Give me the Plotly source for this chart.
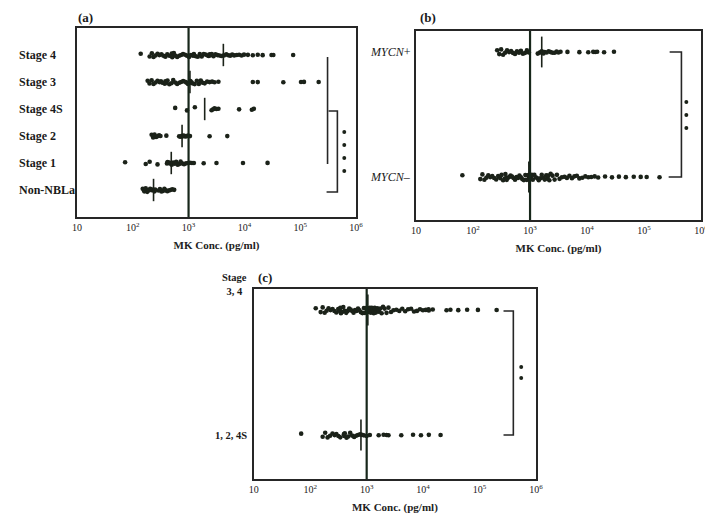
import math
import plotly.graph_objects as go

# page body has an 8px margin: size the figure so the picture fills the 713x514 window
PAGE_W, PAGE_H, BODY = 713, 514, 8
W, H = PAGE_W - BODY, PAGE_H - BODY
DOT = "#1b2219"
INK = "#262626"
SERIF = "Liberation Serif, Times New Roman, serif"

TICK_VALS = [10, 100, 1000, 10000, 100000, 1000000]
TICK_TEXT = ["10", "10<sup>2</sup>", "10<sup>3</sup>", "10<sup>4</sup>", "10<sup>5</sup>", "10<sup>6</sup>"]
CUTOFF = 1000
X_TITLE = "MK Conc. (pg/ml)"

# ---------------- panel (a) ----------------
A_CATS = ["Non-NBLa", "Stage 1", "Stage 2", "Stage 4S", "Stage 3", "Stage 4"]  # bottom -> top
a_stage4 = [139, 201, 220, 236, 256, 278, 300, 327, 355, 384, 415, 452, 500, 510, 520, 545,
            576, 625, 678, 735, 796, 865, 937, 1020, 1102, 1200, 1245, 1260, 1350, 1463,
            1590, 1721, 1870, 2023, 2200, 2300, 2382, 2450, 2600, 2800, 3030, 3295, 3580,
            3874, 4300, 4745, 5140, 5575, 6050, 6560, 7300, 8040, 8900, 9840, 11560,
            14160, 17350, 21250, 30600, 33000, 74700]
a_stage3 = [185, 200, 218, 236, 256, 278, 301, 320, 340, 375, 384, 395, 420, 452, 490, 531,
            575, 625, 680, 735, 800, 865, 920, 976, 1040, 1059, 1080, 1130, 1195, 1290,
            1406, 1530, 1652, 1680, 1800, 1944, 2150, 2382, 2640, 2917, 3428, 14160, 17350,
            49800, 103300, 116700, 214000]
a_stage4s = [576, 937, 1297, 2582, 2750, 2917, 3150, 3428, 8040, 13600, 14760]
a_stage2 = [218, 232, 246, 262, 278, 296, 314, 400, 678, 720, 765, 780, 820, 865, 920, 976,
            1059, 2382, 4940]
a_stage1 = [73, 171, 201, 278, 410, 420, 430, 450, 471, 500, 531, 565, 600, 640, 678, 720,
            765, 830, 900, 980, 1059, 1150, 1245, 1866, 3162, 9440, 26000]
a_nonnbla = [151, 161, 171, 182, 193, 205, 218, 228, 240, 246, 252, 289, 307, 327, 347, 369,
             392, 417, 443, 471, 510, 553]
A_VALUES = [a_nonnbla, a_stage1, a_stage2, a_stage4s, a_stage3, a_stage4]
A_MEDIANS = [236, 490, 765, 1944, 1059, 4200]

# ---------------- panel (b) ----------------
B_CATS = ["MYCN–", "MYCN+"]
b_mycn_pos = [265, 288, 311, 337, 365, 395, 429, 465, 503, 545, 590, 640, 692, 750, 813,
              880, 953, 1365, 1479, 1580, 1603, 1620, 1640, 1720, 1808, 1960, 2120, 2300,
              2489, 2700, 2920, 3150, 3425, 4530, 7330, 10490, 12820, 13880, 15030, 19890,
              29650]
b_mycn_neg = [65, 134, 146, 158, 171, 185, 200, 217, 235, 255, 276, 299, 317, 337, 358, 370,
              380, 390, 405, 429, 455, 483, 513, 545, 578, 614, 652, 692, 735, 780, 828,
              879, 930, 953, 960, 975, 1000, 1033, 1075, 1119, 1190, 1262, 1340, 1422, 1510,
              1603, 1700, 1808, 1920, 2000, 2037, 2080, 2180, 2297, 2480, 2696, 2960, 3290,
              3620, 4016, 4430, 4908, 5430, 5995, 6620, 7330, 8250, 9310, 10500, 11840,
              13600, 15650, 20690, 27380, 36200, 47900, 65900, 87300, 111000, 186700]
B_VALUES = [b_mycn_neg, b_mycn_pos]
B_MEDIANS = [953, 1603]
B_LABELS = ["<i>MYCN</i>–", "<i>MYCN</i>+"]

# ---------------- panel (c) ----------------
C_CATS = ["1, 2, 4S", "Stage 3, 4"]
c_stage124s = [69, 166, 184, 203, 225, 248, 270, 290, 315, 341, 395, 401, 410, 440, 470,
               510, 552, 600, 648, 700, 762, 825, 894, 1000, 1137, 1632, 1995, 2250, 2437,
               4103, 6637, 9163, 12630, 20400]
c_stage34 = [125, 153, 166, 180, 195, 211, 229, 248, 268, 290, 313, 335, 341, 350, 367, 385,
             409, 434, 460, 480, 490, 520, 552, 586, 622, 660, 703, 746, 792, 842, 894, 930,
             968, 1000, 1040, 1049, 1090, 1130, 1137, 1185, 1233, 1240, 1285, 1334, 1340,
             1390, 1445, 1450, 1540, 1632, 1640, 1740, 1842, 1950, 2077, 2250, 2437, 2700,
             2979, 3350, 3785, 4270, 4815, 5430, 6121, 6900, 7798, 8800, 9932, 11200, 12500,
             12630, 14830, 26000, 30500, 42000, 60300, 93700, 201000]
C_VALUES = [c_stage124s, c_stage34]
C_MEDIANS = [792, 1049]


def px(x):
    # reference pixel -> paper fraction
    return (x - BODY) / W


def py(y):
    return 1 - (y - BODY) / H


fig = go.Figure()

panels = [
    ("x", "y", A_CATS, A_VALUES, A_MEDIANS, 0.6, 0.28, 16),
    ("x2", "y2", B_CATS, B_VALUES, B_MEDIANS, 0.14, 0.38, 22),
    ("x3", "y3", C_CATS, C_VALUES, C_MEDIANS, 0.14, 0.38, 22),
]
for xa, ya, cats, values, medians, bw, jit, tick_h in panels:
    for cat, vals in zip(cats, values):
        fig.add_trace(go.Box(
            x=vals, y=[cat] * len(vals), orientation="h", xaxis=xa, yaxis=ya,
            boxpoints="all", jitter=jit, pointpos=0, width=bw,
            fillcolor="rgba(0,0,0,0)", line=dict(width=0, color="rgba(0,0,0,0)"),
            marker=dict(size=4.6, color=DOT), showlegend=False, hoveron="points"))
    fig.add_trace(go.Scatter(
        x=medians, y=cats, mode="markers", xaxis=xa, yaxis=ya, showlegend=False,
        marker=dict(symbol="line-ns", size=tick_h, line=dict(width=1.6, color=DOT))))

xcommon = dict(type="log", range=[1, 6], tickvals=TICK_VALS, ticktext=TICK_TEXT,
               showline=True, mirror=True, linecolor=INK, linewidth=1.8, ticks="",
               showgrid=False, zeroline=False,
               tickfont=dict(family=SERIF, size=10, color="#222"),
               title=dict(text="<b>" + X_TITLE + "</b>", standoff=9,
                          font=dict(family=SERIF, size=11, color="#222")))
ycommon = dict(type="category", showline=True, mirror=True, linecolor=INK, linewidth=1.8,
               showticklabels=False, ticks="", showgrid=False, zeroline=False)

fig.update_layout(
    width=W, height=H, margin=dict(l=0, r=0, t=0, b=0),
    paper_bgcolor="white", plot_bgcolor="white", boxmode="overlay",
    xaxis=dict(xcommon, domain=[px(73), px(357)], anchor="y"),
    yaxis=dict(ycommon, domain=[py(217), py(28)], anchor="x",
               categoryarray=A_CATS, categoryorder="array", range=[-1, 6]),
    xaxis2=dict(xcommon, domain=[px(418), px(708)], anchor="y2"),
    yaxis2=dict(ycommon, domain=[py(220), py(31)], anchor="x2",
                categoryarray=B_CATS, categoryorder="array", range=[-0.344, 1.168]),
    xaxis3=dict(xcommon, domain=[px(253), px(540)], anchor="y3"),
    yaxis3=dict(ycommon, domain=[py(479), py(289)], anchor="x3",
                categoryarray=C_CATS, categoryorder="array", range=[-0.352, 1.168]),
)

shapes = []
cut_frac = (math.log10(CUTOFF) - 1) / 5  # position of the cutoff inside the axis range [1, 6]
for xa, ya in [("x", "y"), ("x2", "y2"), ("x3", "y3")]:
    shapes.append(dict(type="line", xref=xa + " domain", yref=ya + " domain",
                       x0=cut_frac, x1=cut_frac, y0=0, y1=1,
                       line=dict(color="#17261a", width=2.2)))


def path(points):
    return "M " + " L ".join(f"{px(x):.5f},{py(y):.5f}" for x, y in points)


bracket_style = dict(type="path", xref="paper", yref="paper", line=dict(color=INK, width=1.6))
shapes.append(dict(bracket_style, path=path([(328, 57), (328, 164)])))
shapes.append(dict(bracket_style, path=path([(329, 111), (338, 111), (338, 192), (327, 192)])))
shapes.append(dict(bracket_style, path=path([(676, 52), (688, 52), (688, 177), (675, 177)])))
shapes.append(dict(bracket_style, path=path([(507, 311), (517, 311), (517, 435), (507, 435)])))

for cx, cy in [(345, 132), (345, 145), (345, 158), (345, 171),
               (693, 102), (693, 115), (693, 128),
               (525, 367), (525, 378)]:
    shapes.append(dict(type="circle", xref="paper", yref="paper",
                       x0=px(cx - 2), x1=px(cx + 2), y0=py(cy + 2), y1=py(cy - 2),
                       fillcolor=DOT, line=dict(width=0)))
fig.update_layout(shapes=shapes)

ann = []
lab_font = dict(family=SERIF, size=12, color="#1a1a1a")
for i, cat in enumerate(A_CATS):
    ann.append(dict(text="<b>" + cat + "</b>", xref="paper", x=px(12), xanchor="left",
                    yref="y", y=i, yanchor="middle", showarrow=False, font=lab_font))
for i, lab in enumerate(B_LABELS):
    ann.append(dict(text=lab, xref="paper", x=px(415), xanchor="right",
                    yref="y2", y=i, yanchor="middle", showarrow=False, font=lab_font))
ann.append(dict(text="<b>1, 2, 4S</b>", xref="paper", x=px(248), xanchor="right",
                yref="y3", y=0, yanchor="middle", showarrow=False,
                font=dict(family=SERIF, size=10.5, color="#1a1a1a")))
ann.append(dict(text="<b>Stage<br>3, 4</b>", xref="paper", x=px(248), xanchor="right",
                yref="paper", y=py(284), yanchor="middle", showarrow=False, align="center",
                font=dict(family=SERIF, size=10.5, color="#1a1a1a")))
title_font = dict(family=SERIF, size=13, color="#1a1a1a")
for t, x, y in [("(a)", 72, 17), ("(b)", 420, 17), ("(c)", 255, 277)]:
    ann.append(dict(text="<b>" + t + "</b>", xref="paper", yref="paper", x=px(x), y=py(y),
                    xanchor="left", yanchor="middle", showarrow=False, font=title_font))
fig.update_layout(annotations=ann)

fig.write_html("out.html")
